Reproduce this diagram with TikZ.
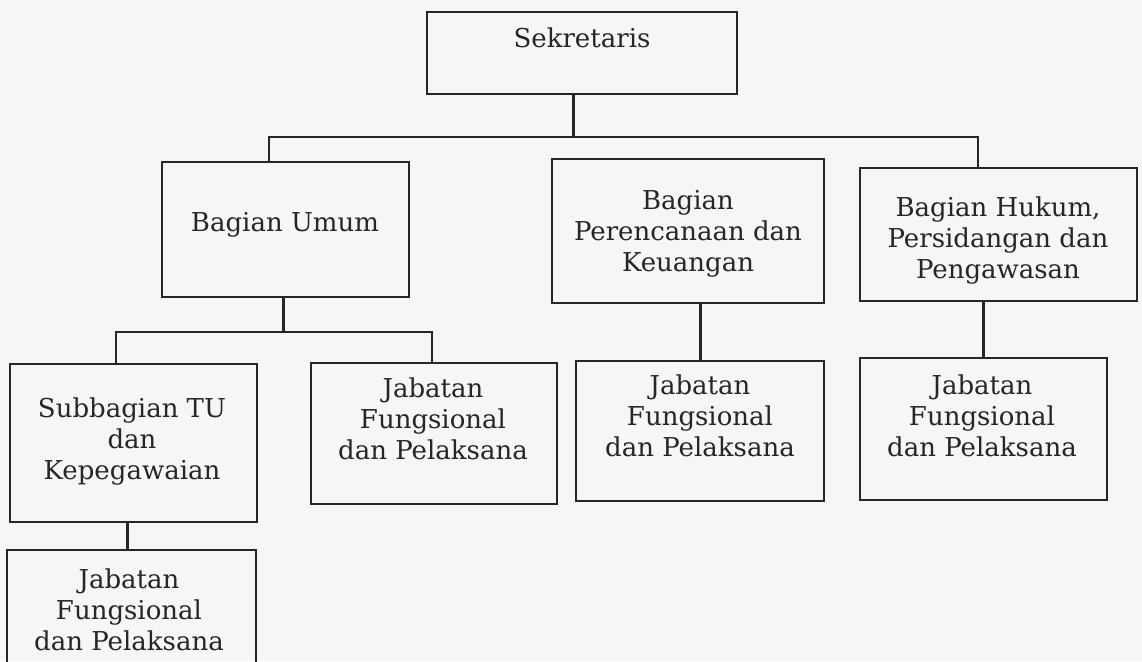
\documentclass[tikz,border=0pt]{standalone}
\usepackage{fontspec}
\setmainfont{DejaVu Serif}
\definecolor{ink}{HTML}{262626}
\definecolor{paper}{HTML}{F6F6F4}
\tikzset{
  box/.style={draw=ink, line width=1.1pt, rectangle, inner sep=0pt, outer sep=0pt, anchor=north west},
  txt/.style={text=ink, align=center, inner sep=0pt, font=\fontsize{13}{15.5}\selectfont},
  conn/.style={draw=ink, line width=1.5pt},
  bus/.style={draw=ink, line width=1.2pt, line cap=rect}
}
\begin{document}
\begin{tikzpicture}[x={(0.5pt,0)}, y={(0,-0.5pt)}]
\clip (0,0) rectangle (1142,661);
\fill[paper] (0,0) rectangle (1142,661);
% boxes
\node[box, minimum width=155pt, minimum height=41pt] (sek) at (427,12) {};
\node[box, minimum width=123.5pt, minimum height=67.5pt] (umum) at (162,162) {};
\node[box, minimum width=136pt, minimum height=72pt] (peren) at (552,159) {};
\node[box, minimum width=138.5pt, minimum height=66.5pt] (hukum) at (860,168) {};
\node[box, minimum width=123.5pt, minimum height=79pt] (sub) at (10,364) {};
\node[box, minimum width=123pt, minimum height=70.5pt] (jab2) at (311,363) {};
\node[box, minimum width=124pt, minimum height=70pt] (jab3) at (576,361) {};
\node[box, minimum width=123.5pt, minimum height=71pt] (jab4) at (860,358) {};
\node[box, minimum width=124.5pt, minimum height=65pt] (jab5) at (7,550) {};
% texts
\node[txt] (sekT) at (582,38) {Sekretaris};
\node[txt] (umumT) at (285,225) {Bagian Umum};
\node[txt] (perenT) at (688,234) {Bagian\\Perencanaan dan\\Keuangan};
\node[txt] (hukumT) at (998,240) {Bagian Hukum,\\Persidangan dan\\Pengawasan};
\node[txt] (subT) at (132,441) {Subbagian TU\\dan\\Kepegawaian};
\node[txt] (jab2T) at (433,419) {Jabatan\\Fungsional\\dan Pelaksana};
\node[txt] (jab3T) at (700,416) {Jabatan\\Fungsional\\dan Pelaksana};
\node[txt] (jab4T) at (982,416) {Jabatan\\Fungsional\\dan Pelaksana};
\node[txt] (jab5T) at (129,610) {Jabatan\\Fungsional\\dan Pelaksana};
% connector coordinates
\coordinate (bS) at (573,137);
\coordinate (bL) at (269,137);
\coordinate (bR) at (978,137);
\coordinate (u) at (283,332);
\coordinate (cL) at (116,332);
\coordinate (cR) at (432,332);
\coordinate (pX) at (700,330);
\coordinate (hX) at (983,330);
\coordinate (sX) at (127,536);
% connectors
\draw[conn] (sek.south -| bS) -- (bS);
\draw[bus] (umum.north -| bL) -- (bL) -- (bR) -- (hukum.north -| bR);
\draw[conn] (umum.south -| u) -- (u);
\draw[bus] (sub.north -| cL) -- (cL) -- (cR) -- (jab2.north -| cR);
\draw[conn] (peren.south -| pX) -- (jab3.north -| pX);
\draw[conn] (hukum.south -| hX) -- (jab4.north -| hX);
\draw[conn] (sub.south -| sX) -- (jab5.north -| sX);
\end{tikzpicture}
\end{document}
